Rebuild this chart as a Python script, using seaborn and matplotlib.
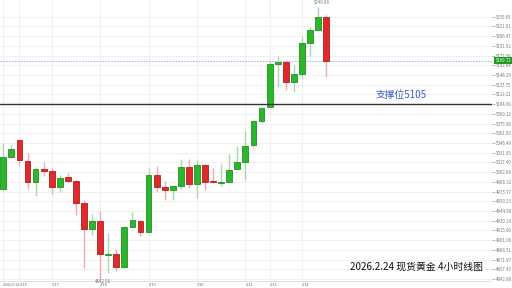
import matplotlib
matplotlib.use("Agg")
import matplotlib.pyplot as plt
import matplotlib.transforms as mtransforms
import seaborn as sns
import numpy as np
import pandas as pd

# ---- data (4h candles) ----
opens = [4977.7, 5025.2, 5050.6, 5020.0, 4988.2, 5007.6, 5004.6, 4980.3, 4996.1, 4990.1,
         4956.8, 4918.3, 4929.4, 4879.4, 4880.0, 4860.5, 4921.3, 4930.3, 4913.8, 4998.2,
         4980.7, 4976.2, 4982.7, 5010.6, 4985.7, 5013.6, 4989.2, 4987.2, 4988.6, 5007.2,
         5018.1, 5043.1, 5079.9, 5100.9, 5165.3, 5167.4, 5137.5, 5150.4, 5195.8, 5215.7,
         5235.65]
closes = [5025.2, 5038.0, 5020.7, 4988.6, 5007.6, 5005.1, 4980.3, 4994.6, 4990.1, 4957.2,
          4918.3, 4929.4, 4880.0, 4880.9, 4860.5, 4920.8, 4930.9, 4913.8, 4998.2, 4981.2,
          4976.7, 4981.8, 5010.6, 4985.7, 5014.1, 4988.6, 4987.8, 4988.6, 5006.6, 5018.1,
          5042.5, 5079.9, 5099.4, 5165.3, 5167.8, 5137.5, 5149.9, 5196.3, 5215.7, 5235.65,
          5169.72]
highs = [5047.0, 5043.6, 5051.8, 5032.0, 5010.6, 5018.1, 5008.7, 4998.2, 5001.7, 4991.2,
         4961.2, 4940.3, 4945.2, 4911.4, 4887.9, 4922.3, 4942.9, 4931.3, 5009.2, 5011.7,
         4989.7, 4983.7, 5022.2, 5022.2, 5021.6, 5015.1, 5008.7, 5014.7, 5030.1, 5042.5,
         5064.5, 5081.0, 5100.5, 5168.9, 5176.8, 5168.6, 5162.9, 5204.8, 5219.8, 5249.88,
         5238.2]
lows = [4976.2, 5023.4, 5013.6, 4977.3, 4967.2, 4997.2, 4969.8, 4973.7, 4987.8, 4938.8,
        4859.9, 4908.9, 4842.58, 4851.5, 4855.0, 4859.5, 4920.1, 4907.4, 4912.6, 4973.7,
        4961.7, 4961.7, 4978.2, 4979.2, 4964.7, 4976.2, 4986.7, 4982.2, 4987.5, 5006.0,
        4990.7, 5039.5, 5076.5, 5099.7, 5130.0, 5125.9, 5123.4, 5142.9, 5177.3, 5214.2,
        5145.8]

x_tick_pos = [0, 2, 6, 12, 18, 24, 30, 33, 37]
x_tick_labels = ["2026/2/14", "2/16", "2/17", "2/18", "2/19", "2/20", "2/21", "2/23", "2/24"]

y_tick_labels = ["5235.65", "5221.01", "5206.47", "5191.92", "5177.38", "5162.84", "5148.29",
                 "5133.75", "5119.21", "5104.66", "5090.12", "5075.58", "5061.03", "5046.49",
                 "5031.95", "5017.40", "5002.86", "4988.32", "4973.77", "4959.23", "4944.69",
                 "4930.14", "4915.60", "4901.06", "4886.51", "4871.97", "4857.43", "4842.88"]

support_level = 5104.66
support_text = "支撑位5105"
title_text = "2026.2.24 现货黄金 4小时线图"
high_label = "5249.88"
low_label = "4842.58"
last_label = "5169.72"

df = pd.DataFrame({"open": opens, "close": closes, "high": highs, "low": lows})
df["idx"] = np.arange(len(df))
df["up"] = df["close"] >= df["open"]

# ---- style ----
sns.set_theme(style="white")
plt.rcParams["font.family"] = ["Noto Sans CJK SC", "DejaVu Sans"]

fig = plt.figure(figsize=(5.12, 2.88), dpi=100)
ax = fig.add_axes([0.0, 7 / 288, 492 / 512, 281 / 288])
ax.set_facecolor("white")

GREEN_FILL, GREEN_EDGE, GREEN_WICK = "#2eb52e", "#1f931f", "#a9d9a9"
RED_FILL, RED_EDGE, RED_WICK = "#dd2a2a", "#b81c1c", "#f1abab"

wick_colors = [GREEN_WICK if u else RED_WICK for u in df["up"]]
ax.vlines(df["idx"], df["low"], df["high"], colors=wick_colors, linewidth=1.0, zorder=2)

body_bottom = np.minimum(df["open"], df["close"])
body_height = np.maximum(np.abs(df["close"] - df["open"]), 0.8)
ax.bar(df["idx"], body_height, bottom=body_bottom, width=0.72,
       color=[GREEN_FILL if u else RED_FILL for u in df["up"]],
       edgecolor=[GREEN_EDGE if u else RED_EDGE for u in df["up"]],
       linewidth=0.6, zorder=3)

# support line & last price line
ax.axhline(support_level, color="#333333", linewidth=1.0, zorder=4)
ax.axhline(closes[-1], color="#8fa8f0", linewidth=0.7, linestyle=(0, (1.5, 1.5)), zorder=1)

# axes limits
ax.set_xlim(-0.41, 60.56)
ax.set_ylim(4840.0, 5260.6)

# y ticks on right
yt = [float(v) for v in y_tick_labels]
ax.yaxis.tick_right()
ax.set_yticks(yt)
ax.set_yticklabels(y_tick_labels)
ax.tick_params(axis="y", labelsize=3.1, labelcolor="#777777", length=2, width=0.5,
               color="#999999", pad=1, right=True)

ax.set_xticks(x_tick_pos)
ax.set_xticklabels(x_tick_labels, ha="left")
ax.tick_params(axis="x", labelsize=2.7, labelcolor="#666666", length=0, pad=1.3)
ax.get_xticklabels()[0].set_x(-0.2)

ax.grid(True, color="#eeeeee", linewidth=0.6)
ax.set_axisbelow(True)
for s in ["top", "left", "right"]:
    ax.spines[s].set_visible(False)
ax.spines["bottom"].set_color("#dddddd")
ax.spines["bottom"].set_linewidth(0.6)

# annotations
ax.text(39.5, highs[39] + 2.5, high_label, fontsize=3.1, color="#777777",
        ha="center", va="bottom")
ax.text(12.3, lows[12] + 1.0, low_label, fontsize=3.1, color="#777777",
        ha="center", va="top")
ax.text(46.2, 5118.4, support_text, fontsize=7, color="#3a5bd0",
        ha="left", va="center")
ax.text(0.982, 0.05, title_text, transform=ax.transAxes, fontsize=7.1,
        color="#111111", ha="right", va="center")

trans = mtransforms.blended_transform_factory(ax.transAxes, ax.transData)
ax.text(1.007, closes[-1], last_label, transform=trans, fontsize=3.1, color="white",
        ha="left", va="center", clip_on=False,
        bbox=dict(boxstyle="square,pad=0.25", facecolor="#1f9a1f", edgecolor="none"))

fig.savefig("out.png", dpi=100)
